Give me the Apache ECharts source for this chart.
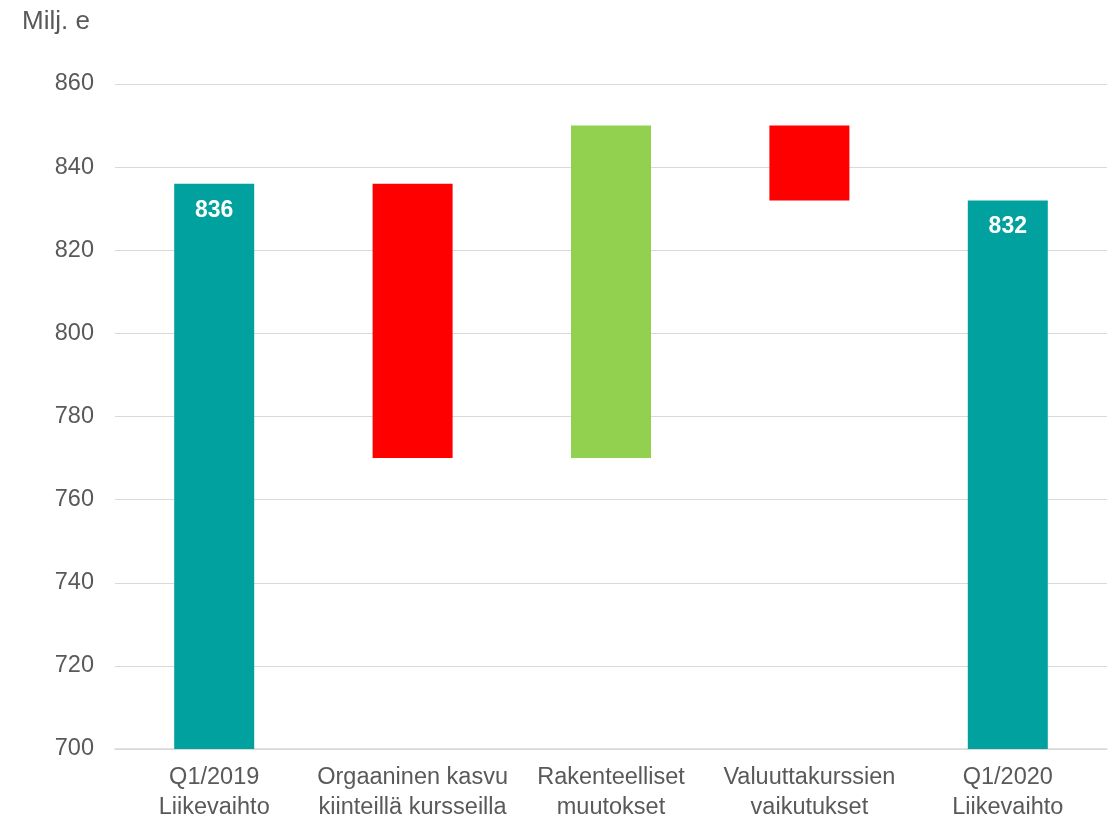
<!DOCTYPE html>
<html>
<head>
<meta charset="utf-8">
<script src="https://cdn.jsdelivr.net/npm/echarts@6/dist/echarts.min.js"></script>
<style>html,body{margin:0;padding:0;background:#fff}#chart{width:1115px;height:815px}</style>
</head>
<body>
<div id="chart"></div>
<script>
var categories = ['Q1/2019\nLiikevaihto', 'Orgaaninen kasvu\nkiinteillä kursseilla', 'Rakenteelliset\nmuutokset', 'Valuuttakurssien\nvaikutukset', 'Q1/2020\nLiikevaihto'];
var totals = [836, null, null, null, 832];
var changes = [null, -66, 80, -18, null];
var yTicks = [700, 720, 740, 760, 780, 800, 820, 840, 860];

var AXIS_MIN = 700;
var colTotal = '#00A19F', colUp = '#92D050', colDown = '#FF0000';
var base = [], heights = [], colors = [];
var running = 0;
for (var i = 0; i < categories.length; i++) {
  if (totals[i] != null) {
    running = totals[i];
    base.push(AXIS_MIN);
    heights.push(totals[i] - AXIS_MIN);
    colors.push(colTotal);
  } else {
    var prev = running;
    running = prev + changes[i];
    base.push(Math.min(prev, running));
    heights.push(Math.abs(changes[i]));
    colors.push(changes[i] >= 0 ? colUp : colDown);
  }
}

var FONT = 'Liberation Sans, Arial, sans-serif';
var chart = echarts.init(document.getElementById('chart'));
chart.setOption({
  animation: false,
  textStyle: {fontFamily: FONT},
  title: {
    text: 'Milj. e', left: 17, top: 4,
    textStyle: {fontSize: 26, fontWeight: 'normal', color: '#595959', fontFamily: FONT}
  },
  grid: {left: 115, right: 8, top: 84, bottom: 66, containLabel: false, outerBoundsMode: 'none'},
  xAxis: {
    type: 'category',
    data: categories,
    axisTick: {show: false},
    axisLine: {lineStyle: {color: '#D9D9D9', width: 1.5}},
    axisLabel: {fontSize: 23.5, color: '#595959', lineHeight: 30, margin: 14, interval: 0}
  },
  yAxis: {
    type: 'value',
    min: yTicks[0], max: yTicks[yTicks.length - 1], interval: 20,
    axisLine: {show: false}, axisTick: {show: false},
    splitLine: {lineStyle: {color: '#D9D9D9', width: 1}},
    axisLabel: {fontSize: 23.5, color: '#595959', margin: 21}
  },
  series: [
    {
      type: 'bar', stack: 'w', barWidth: 80, silent: true,
      itemStyle: {color: 'transparent'},
      data: base.map(function (v) { return v; })
    },
    {
      type: 'bar', stack: 'w', barWidth: 80,
      data: heights.map(function (h, i) {
        return {
          value: h,
          itemStyle: {color: colors[i]},
          label: {
            show: totals[i] != null,
            position: 'insideTop', distance: 15,
            formatter: function () { return String(totals[i]); },
            color: '#fff', fontSize: 23, fontWeight: 'bold'
          }
        };
      })
    }
  ]
});
</script>
</body>
</html>
